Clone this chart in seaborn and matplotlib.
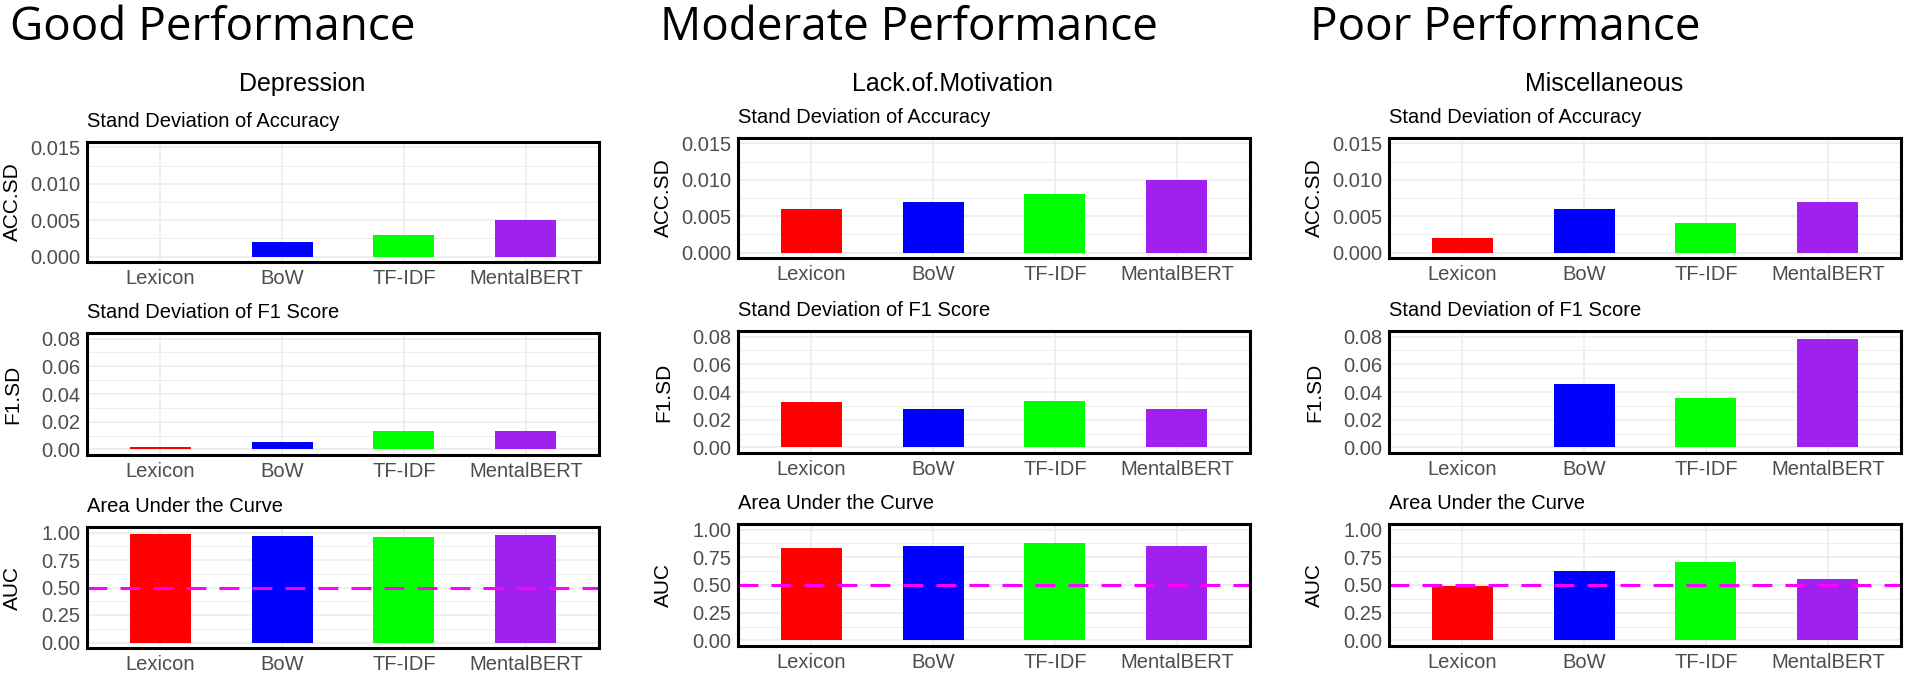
import numpy as np
import pandas as pd
import matplotlib
matplotlib.use("Agg")
import matplotlib.pyplot as plt
from matplotlib.ticker import FixedLocator
import seaborn as sns

# ---------------- data ----------------
categories = ["Lexicon", "BoW", "TF-IDF", "MentalBERT"]
bar_colors = ["#FF0000", "#0000FF", "#00FF00", "#A020F0"]
perf_titles = ["Good Performance", "Moderate Performance", "Poor Performance"]
groups = ["Depression", "Lack.of.Motivation", "Miscellaneous"]

acc_sd_depression = [0.0, 0.002, 0.003, 0.005]
f1_sd_depression = [0.0015, 0.0053, 0.0135, 0.0135]
auc_depression = [0.985, 0.967, 0.956, 0.976]

acc_sd_motivation = [0.006, 0.007, 0.008, 0.010]
f1_sd_motivation = [0.0325, 0.028, 0.0335, 0.0275]
auc_motivation = [0.837, 0.855, 0.882, 0.855]

acc_sd_misc = [0.002, 0.006, 0.004, 0.007]
f1_sd_misc = [0.0, 0.0455, 0.036, 0.078]
auc_misc = [0.488, 0.630, 0.704, 0.550]

metric_titles = ["Stand Deviation of Accuracy", "Stand Deviation of F1 Score", "Area Under the Curve"]
metric_ylabels = ["ACC.SD", "F1.SD", "AUC"]
acc_ticks = [0.0, 0.005, 0.010, 0.015]
f1_ticks = [0.0, 0.02, 0.04, 0.06, 0.08]
auc_ticks = [0.0, 0.25, 0.50, 0.75, 1.00]
auc_reference = 0.5

# ---------------- style ----------------
sns.set_theme(style="white")
plt.rcParams["font.family"] = ["Liberation Sans", "DejaVu Sans"]

W, H = 1908, 680
fig = plt.figure(figsize=(W / 100, H / 100), dpi=100)

col_data = [
    [acc_sd_depression, f1_sd_depression, auc_depression],
    [acc_sd_motivation, f1_sd_motivation, auc_motivation],
    [acc_sd_misc, f1_sd_misc, auc_misc],
]
tick_sets = [acc_ticks, f1_ticks, auc_ticks]
tick_fmts = ["{:.3f}", "{:.2f}", "{:.2f}"]

col_lefts = [87, 738, 1389]
axw = 512
col_rows = [
    [(142, 262), (333, 455), (527, 648)],
    [(138, 258), (331, 453), (524, 646)],
    [(138, 258), (331, 453), (524, 646)],
]
big_title_x = [10, 660, 1310]
sub_center_x = [302, 953, 1604]

tick_color = "#4D4D4D"

for c in range(3):
    fig.text(big_title_x[c] / W, 1 - 40 / H, perf_titles[c], fontsize=33,
             family=["Open Sans", "DejaVu Sans"], color="black",
             ha="left", va="baseline")
    fig.text(sub_center_x[c] / W, 1 - 91 / H, groups[c], fontsize=18,
             color="black", ha="center", va="baseline")
    for r in range(3):
        top, bot = col_rows[c][r]
        ax = fig.add_axes([col_lefts[c] / W, 1 - bot / H, axw / W, (bot - top) / H])
        df = pd.DataFrame({"model": categories, "value": col_data[c][r]})
        sns.barplot(data=df, x="model", y="value", hue="model", order=categories,
                    hue_order=categories, palette=bar_colors, saturation=1,
                    width=0.5, linewidth=0, legend=False, ax=ax, zorder=3)
        ticks = tick_sets[r]
        lo, hi = ticks[0], ticks[-1]
        rng = hi - lo
        ax.set_ylim(lo - 0.05 * rng, hi + 0.05 * rng)
        ax.set_xlim(-0.6, 3.6)
        ax.yaxis.set_major_locator(FixedLocator(ticks))
        minors = [(ticks[i] + ticks[i + 1]) / 2 for i in range(len(ticks) - 1)]
        ax.yaxis.set_minor_locator(FixedLocator(minors))
        ax.set_yticklabels([tick_fmts[r].format(t) for t in ticks])
        ax.grid(True, which="major", axis="both", color="#EBEBEB", linewidth=1.1, zorder=0)
        ax.grid(True, which="minor", axis="y", color="#EBEBEB", linewidth=0.6, zorder=0)
        ax.set_axisbelow(True)
        ax.tick_params(axis="both", which="both", length=0, labelsize=14.5,
                       labelcolor=tick_color, pad=5)
        ax.set_xlabel("")
        ax.set_ylabel(metric_ylabels[r], fontsize=15, color="black")
        ax.yaxis.set_label_coords(-0.127, 0.5)
        for sp in ax.spines.values():
            sp.set_visible(True)
            sp.set_color("black")
            sp.set_linewidth(2.2)
            sp.set_zorder(5)
        ax.set_title(metric_titles[r], loc="left", fontsize=14.5, color="black", pad=11)
        if r == 2:
            ax.axhline(auc_reference, color="#FF00FF", linewidth=2.2,
                       dashes=(6.5, 4.3), zorder=4)

fig.savefig("out.png", dpi=100, facecolor="white")
